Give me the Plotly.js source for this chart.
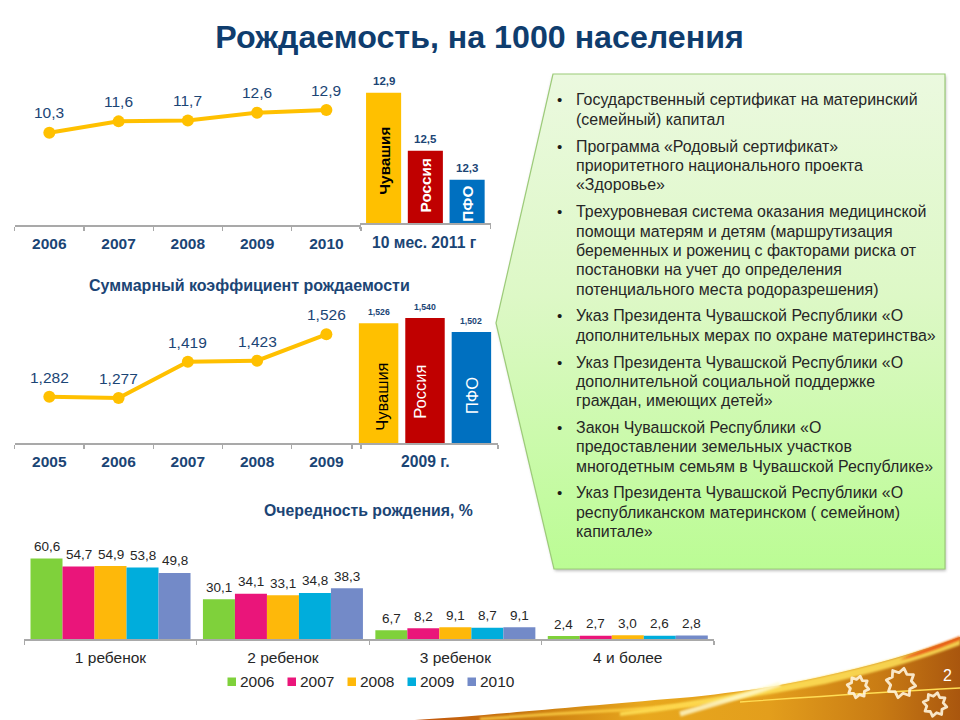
<!DOCTYPE html>
<html><head><meta charset="utf-8">
<script src="https://cdn.plot.ly/plotly-3.0.1.min.js"></script>
<style>html,body{margin:0;padding:0;background:#fff}#c{width:960px;height:720px}</style>
</head><body><div id="c"></div>
<script>
var FONT = 'Liberation Sans, Arial, sans-serif';
var NAVY = '#1B4575', AXIS = '#A9A9A9';

var rateYears = ['2006','2007','2008','2009','2010'];
var rateValues = [10.3,11.6,11.7,12.6,12.9];
var regions = ['Чувашия','Россия','ПФО'];
var regionColors = ['#FFC000','#C00000','#0070C0'];
var regionTextColors = ['#000000','#FFFFFF','#FFFFFF'];
var rateRegionValues = [12.9,12.5,12.3];
var tfrYears = ['2005','2006','2007','2008','2009'];
var tfrValues = [1.282,1.277,1.419,1.423,1.526];
var tfrRegionValues = [1.526,1.540,1.502];
var orderCats = ['1 ребенок','2 ребенок','3 ребенок','4 и более'];
var orderYears = ['2006','2007','2008','2009','2010'];
var orderColors = ['#7FD13B','#EA157A','#FEB80A','#00ADDC','#738AC8'];
var order2006 = [60.6,30.1,6.7,2.4];
var order2007 = [54.7,34.1,8.2,2.7];
var order2008 = [54.9,33.1,9.1,3.0];
var order2009 = [53.8,34.8,8.7,2.6];
var order2010 = [49.8,38.3,9.1,2.8];
var orderSeries = [order2006,order2007,order2008,order2009,order2010];
var panelParagraphs = [
 ['Государственный сертификат на материнский','(семейный) капитал'],
 ['Программа «Родовый сертификат»','приоритетного национального проекта','«Здоровье»'],
 ['Трехуровневая система оказания медицинской','помощи матерям и детям (маршрутизация','беременных и рожениц с факторами риска от','постановки на учет до определения','потенциального места родоразрешения)'],
 ['Указ Президента Чувашской Республики «О','дополнительных мерах по охране материнства»'],
 ['Указ Президента Чувашской Республики «О','дополнительной социальной поддержке','граждан, имеющих детей»'],
 ['Закон Чувашской Республики «О','предоставлении земельных участков','многодетным семьям в Чувашской Республике»'],
 ['Указ Президента Чувашской Республики «О','республиканском материнском ( семейном)','капитале»']
];

function px(x){return x/960;}
function py(y){return 1-y/720;}
function comma(v,d){return v.toFixed(d).replace('.',',');}

function star(cx,cy,r){
  var p=[];
  for(var i=0;i<16;i++){
    var a=i*Math.PI/8+0.2, R=i%2?r*0.7:r;
    p.push((cx+R*Math.cos(a)).toFixed(1)+','+(cy+R*Math.sin(a)).toFixed(1));
  }
  return '<polygon points="'+p.join(' ')+'" fill="none" stroke="#FFF4DC" stroke-width="2.8" stroke-linejoin="round" opacity="0.9"/>';
}
var svg = '<svg xmlns="http://www.w3.org/2000/svg" width="960" height="720" viewBox="0 0 960 720">'+
 '<defs>'+
 '<linearGradient id="p" x1="0" y1="0" x2="0" y2="1"><stop offset="0" stop-color="#EBF9DF"/><stop offset="0.45" stop-color="#DDF8C6"/><stop offset="1" stop-color="#BBFC94"/></linearGradient>'+
 '<linearGradient id="s" x1="0" y1="0" x2="1" y2="0"><stop offset="0" stop-color="#C2560E"/><stop offset="0.2" stop-color="#C8780F"/><stop offset="0.42" stop-color="#E8A81E"/><stop offset="0.65" stop-color="#E39E1C"/><stop offset="0.85" stop-color="#C97C14"/><stop offset="1" stop-color="#A9560E"/></linearGradient>'+
 '<filter id="b" x="-5%" y="-5%" width="110%" height="110%"><feGaussianBlur stdDeviation="1.5"/></filter>'+
 '<filter id="b2" x="-5%" y="-50%" width="110%" height="200%"><feGaussianBlur stdDeviation="1.1"/></filter>'+
 '</defs>'+
 '<polygon points="553,76 946,76 946,571 555,571 497,325" fill="#888" opacity="0.55" filter="url(#b)"/>'+
 '<polygon points="553,74 945,74 945,569 554,569 496,323" fill="url(#p)" stroke="#9CCB78" stroke-width="1.2"/>'+
 '<path d="M415,720 C480,716 560,708 680,698 C740,692 780,686 820,677 C870,666 920,652 960,637 L960,720 Z" fill="url(#s)"/>'+
 '<path d="M620,712 C690,702 760,690 820,677 C870,666 920,652 960,637 L960,645 C920,660 870,674 825,684 C760,696 690,708 620,716 Z" fill="#FFE25A" opacity="0.85" filter="url(#b2)"/>'+
 '<path d="M680,714 C720,702 750,694 780,684" fill="none" stroke="#FFFBD0" stroke-width="5" opacity="0.8" filter="url(#b2)"/>'+
 '<path d="M480,719 C560,713 640,710 700,704" fill="none" stroke="#FFD54A" stroke-width="2.5" opacity="0.9" filter="url(#b2)"/>'+
 '<path d="M740,702 C810,697 880,692 960,688" fill="none" stroke="#FFDD55" stroke-width="1.3"/>'+
 '<path d="M900,660 C925,654 945,646 960,640 L960,636 C930,648 915,652 900,660 Z" fill="#E8500F" opacity="0.9" filter="url(#b2)"/>'+
 star(858,687,11)+star(901,683,15)+star(935,704.5,12)+
 '</svg>';

var traces = [
 {type:'scatter',mode:'lines+markers',name:'Рождаемость',x:rateYears,y:rateValues,xaxis:'x',yaxis:'y',
  line:{color:'#FFC000',width:4},marker:{color:'#FFC000',size:12},cliponaxis:false},
 {type:'bar',name:'10 мес. 2011 г',x:regions,y:rateRegionValues,xaxis:'x2',yaxis:'y2',width:0.84,
  marker:{color:regionColors},cliponaxis:true},
 {type:'scatter',mode:'lines+markers',name:'Суммарный коэффициент',x:tfrYears,y:tfrValues,xaxis:'x3',yaxis:'y3',
  line:{color:'#FFC000',width:4},marker:{color:'#FFC000',size:12},cliponaxis:false},
 {type:'bar',name:'2009 г.',x:regions,y:tfrRegionValues,xaxis:'x4',yaxis:'y4',width:0.85,
  marker:{color:regionColors},cliponaxis:true}
];
orderYears.forEach(function(yr,i){
  traces.push({type:'bar',name:yr,x:orderCats,y:orderSeries[i],xaxis:'x5',yaxis:'y5',
    marker:{color:orderColors[i]},cliponaxis:false});
});

function axisBase(extra){
  var a={showgrid:false,zeroline:false,showline:true,linecolor:AXIS,linewidth:1.5,
         ticks:'outside',ticklen:4,tickcolor:AXIS,tickwidth:1.2,fixedrange:true};
  for(var k in extra)a[k]=extra[k];
  return a;
}
function hiddenY(dom,rng,anchor){
  return {domain:dom,range:rng,visible:false,fixedrange:true,anchor:anchor};
}
var tickFont={family:FONT,size:15.5,color:NAVY,weight:700};
var annotations=[];
function pointLabels(ys,xa,ya,dec,size,shift,weight){
  ys.forEach(function(v,i){
    annotations.push({xref:xa,yref:ya,x:i,y:v,text:comma(v,dec),showarrow:false,yshift:shift,
      yanchor:'middle',font:{family:FONT,size:size,color:NAVY,weight:weight||400}});
  });
}
pointLabels(rateValues,'x','y',1,15.5,20);
pointLabels(tfrValues,'x3','y3',3,15.5,19.5);
pointLabels(rateRegionValues,'x2','y2',1,11.5,12,700);
pointLabels(tfrRegionValues,'x4','y4',3,8.7,11,700);

function barNames(vals,xa,ya,base,dxs,dys,size,weight){
  regions.forEach(function(r,i){
    annotations.push({xref:xa,yref:ya,x:i,y:(base+vals[i])/2,text:r,textangle:-90,showarrow:false,
      xshift:dxs[i],yshift:dys[i],font:{family:FONT,size:size,weight:weight,color:regionTextColors[i]}});
  });
}
barNames(rateRegionValues,'x2','y2',12,[0,0,0],[-3,2,-2],15.3,700);
barNames(tfrRegionValues,'x4','y4',1.2,[4,-5,0],[-14,-11,-8],16.5,400);

orderSeries.forEach(function(s,i){
  s.forEach(function(v,c){
    annotations.push({xref:'x5',yref:'y5',x:c+(i-2)*0.928/5,y:v,text:comma(v,1),showarrow:false,yshift:12,
      yanchor:'middle',font:{family:FONT,size:13.5,color:'#262626'}});
  });
});

function paperText(t,x,y,font,anchor){
  annotations.push({xref:'paper',yref:'paper',x:px(x),y:py(y),text:t,showarrow:false,xanchor:anchor||'center',yanchor:'middle',font:font});
}
paperText('Суммарный коэффициент рождаемости',249.5,286,{family:FONT,size:16,color:NAVY,weight:700});
paperText('Очередность рождения, %',368,510,{family:FONT,size:15.8,color:NAVY,weight:700});
paperText('10 мес. 2011 г',424,242.7,{family:FONT,size:15.7,color:NAVY,weight:700});
paperText('2009 г.',425,461.7,{family:FONT,size:15.7,color:NAVY,weight:700});
paperText('2',947,675,{family:FONT,size:16,color:'#FFFFFF'});

var ly=100;
panelParagraphs.forEach(function(par){
  paperText('•',559,ly,{family:FONT,size:15,color:'#1A1A1A'});
  par.forEach(function(line){
    paperText(line,573.5,ly,{family:FONT,size:15.95,color:'#262626'},'left');
    ly+=19.4;
  });
  ly+=7.3;
});

var shapes=[];
orderYears.forEach(function(yr,i){
  var lx=227.5+i*60;
  shapes.push({type:'rect',xref:'paper',yref:'paper',x0:px(lx),x1:px(lx+8.5),y0:py(686),y1:py(677.5),
    fillcolor:orderColors[i],line:{width:0},layer:'above'});
  paperText(yr,lx+10,681.5,{family:FONT,size:15.5,color:'#262626'},'left');
});

var layout={
 width:960,height:720,margin:{l:0,r:0,t:0,b:0,pad:0},autosize:false,
 paper_bgcolor:'#FFFFFF',plot_bgcolor:'rgba(0,0,0,0)',showlegend:false,
 font:{family:FONT},barmode:'group',bargap:0.072,bargroupgap:0,
 title:{text:'Рождаемость, на 1000 населения',x:0.4995,xanchor:'center',y:1-37/720,yanchor:'middle',
        font:{family:FONT,size:32.2,color:'#0F3D6E',weight:700}},
 images:[{source:'data:image/svg+xml;charset=utf-8,'+encodeURIComponent(svg),xref:'paper',yref:'paper',x:0,y:1,
          sizex:1,sizey:1,xanchor:'left',yanchor:'top',sizing:'stretch',layer:'below'}],
 xaxis:axisBase({domain:[px(14.7),px(361)],type:'category',range:[-0.5,4.5],tickson:'boundaries',tickfont:tickFont,anchor:'y',ticklabelstandoff:4}),
 yaxis:hiddenY([py(225),py(60)],[-0.27,18.63],'x'),
 xaxis2:axisBase({domain:[px(360),px(490.7)],type:'category',range:[-0.565,2.565],tickvals:[-0.565,2.565],ticktext:['',''],anchor:'y2'}),
 yaxis2:hiddenY([py(223.3),py(60)],[12,13.126],'x2'),
 xaxis3:axisBase({domain:[px(14.7),px(361)],type:'category',range:[-0.5,4.5],tickson:'boundaries',tickfont:tickFont,anchor:'y3',ticklabelstandoff:4}),
 yaxis3:hiddenY([py(443.3),py(300)],[1.1,1.66],'x3'),
 xaxis4:axisBase({domain:[px(352),px(498)],type:'category',range:[-0.573,2.573],tickvals:[-0.573,2.573],ticktext:['',''],anchor:'y4'}),
 yaxis4:hiddenY([py(443.3),py(300)],[1.2,1.589],'x4'),
 xaxis5:axisBase({domain:[px(24.3),px(714)],type:'category',range:[-0.5,3.5],tickson:'boundaries',anchor:'y5',ticklabelstandoff:4,
        tickfont:{family:FONT,size:15.5,color:'#262626'}}),
 yaxis5:hiddenY([py(639.3),py(530)],[0,82],'x5'),
 annotations:annotations,shapes:shapes
};
Plotly.newPlot('c',traces,layout,{displayModeBar:false,staticPlot:true,responsive:false});
</script></body></html>
